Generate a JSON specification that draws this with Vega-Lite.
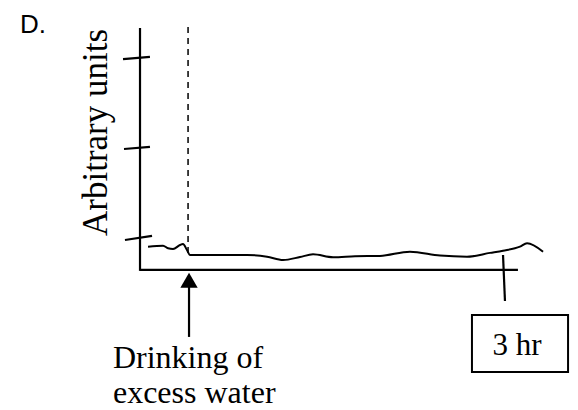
{
  "$schema": "https://vega.github.io/schema/vega-lite/v6.json",
  "width": 578,
  "height": 410,
  "padding": 0,
  "autosize": {"type": "none"},
  "background": "white",
  "config": {"view": {"stroke": null}},
  "datasets": {
    "curve": [
      {"x": 0.066, "y": 0.259},
      {"x": 0.190, "y": 0.270},
      {"x": 0.231, "y": 0.241},
      {"x": 0.272, "y": 0.233},
      {"x": 0.330, "y": 0.278},
      {"x": 0.354, "y": 0.289},
      {"x": 0.387, "y": 0.222},
      {"x": 0.412, "y": 0.167},
      {"x": 0.659, "y": 0.167},
      {"x": 0.882, "y": 0.167},
      {"x": 1.047, "y": 0.148},
      {"x": 1.179, "y": 0.111},
      {"x": 1.319, "y": 0.144},
      {"x": 1.426, "y": 0.174},
      {"x": 1.591, "y": 0.141},
      {"x": 1.772, "y": 0.152},
      {"x": 1.978, "y": 0.156},
      {"x": 2.225, "y": 0.203},
      {"x": 2.473, "y": 0.160},
      {"x": 2.695, "y": 0.148},
      {"x": 2.885, "y": 0.190},
      {"x": 2.992, "y": 0.214},
      {"x": 3.132, "y": 0.259},
      {"x": 3.190, "y": 0.297},
      {"x": 3.322, "y": 0.203}
    ],
    "axes": [
      {"part": "y axis", "x": 0, "x2": 0, "y": -0.01, "y2": 2.689},
      {"part": "x axis", "x": 0, "x2": 3.115, "y": 0, "y2": 0},
      {"part": "y tick 3", "x": -0.140, "x2": 0.082, "y": 2.344, "y2": 2.367},
      {"part": "y tick 2", "x": -0.132, "x2": 0.082, "y": 1.344, "y2": 1.367},
      {"part": "y tick 1", "x": -0.124, "x2": 0.099, "y": 0.333, "y2": 0.378},
      {"part": "x tick 3 hr", "x": 2.992, "x2": 3.008, "y": 0.167, "y2": -0.344},
      {"part": "arrow shaft", "x": 0.404, "x2": 0.404, "y": -0.744, "y2": -0.15}
    ],
    "marker": [
      {"event": "Drinking of excess water", "x": 0.396, "x2": 0.396, "y": 2.7, "y2": 0.167}
    ],
    "arrowhead": [
      {"x": 0.404, "y": -0.115}
    ],
    "box": [
      {"x": 2.736, "x2": 3.528, "y": -0.5, "y2": -1.133}
    ],
    "serif": [
      {"label": "Drinking of", "x": -0.223, "y": -1.089, "align": "left"},
      {"label": "excess water", "x": -0.223, "y": -1.478, "align": "left"},
      {"label": "3 hr", "x": 3.107, "y": -0.944, "align": "center"}
    ]
  },
  "encoding": {
    "x": {"field": "x", "type": "quantitative", "scale": {"domain": [-1.154, 3.61], "nice": false, "zero": false}, "axis": null},
    "y": {"field": "y", "type": "quantitative", "scale": {"domain": [-1.556, 3.0], "nice": false, "zero": false}, "axis": null}
  },
  "layer": [
    {
      "data": {"name": "box"},
      "mark": {"type": "rect", "fill": "white", "stroke": "black", "strokeWidth": 2},
      "encoding": {"x2": {"field": "x2"}, "y2": {"field": "y2"}}
    },
    {
      "data": {"name": "axes"},
      "mark": {"type": "rule", "color": "black", "strokeWidth": 2.2},
      "encoding": {"x2": {"field": "x2"}, "y2": {"field": "y2"}}
    },
    {
      "data": {"name": "marker"},
      "mark": {"type": "rule", "color": "black", "strokeWidth": 1.5, "strokeDash": [6, 5]},
      "encoding": {"x2": {"field": "x2"}, "y2": {"field": "y2"}}
    },
    {
      "data": {"name": "arrowhead"},
      "mark": {"type": "point", "shape": "triangle-up", "filled": true, "color": "black", "size": 300, "opacity": 1}
    },
    {
      "data": {"name": "curve"},
      "mark": {"type": "line", "color": "black", "strokeWidth": 2, "interpolate": "monotone"}
    },
    {
      "data": {"name": "serif"},
      "transform": [{"filter": "datum.align == 'left'"}],
      "mark": {"type": "text", "font": "Liberation Serif", "fontSize": 32, "align": "left", "baseline": "alphabetic", "color": "black"},
      "encoding": {"text": {"field": "label"}}
    },
    {
      "data": {"name": "serif"},
      "transform": [{"filter": "datum.align == 'center'"}],
      "mark": {"type": "text", "font": "Liberation Serif", "fontSize": 31, "align": "center", "baseline": "alphabetic", "color": "black"},
      "encoding": {"text": {"field": "label"}}
    },
    {
      "data": {"values": [{"label": "Arbitrary units", "x": -0.272, "y": 1.528}]},
      "mark": {"type": "text", "font": "Liberation Serif", "fontSize": 35, "angle": 270, "align": "center", "baseline": "alphabetic", "color": "black"},
      "encoding": {"text": {"field": "label"}}
    },
    {
      "data": {"values": [{"label": "D.", "x": -0.989, "y": 2.633}]},
      "mark": {"type": "text", "font": "Liberation Sans", "fontSize": 26, "align": "left", "baseline": "alphabetic", "color": "black"},
      "encoding": {"text": {"field": "label"}}
    }
  ]
}
